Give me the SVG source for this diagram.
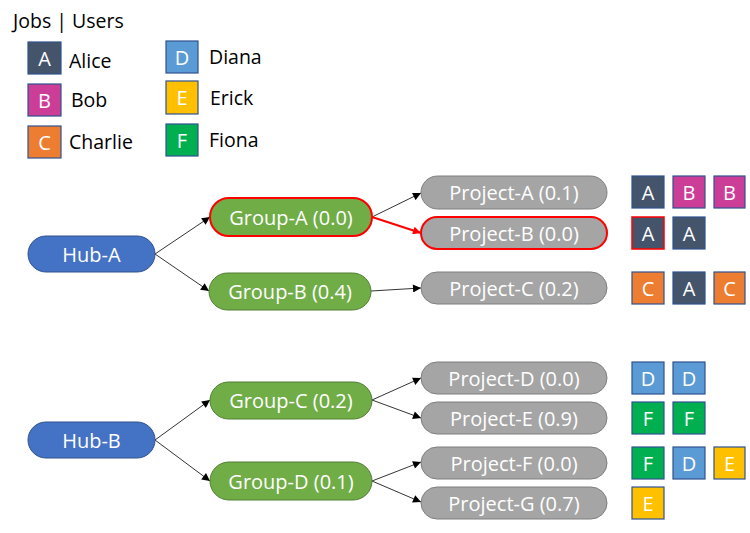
<svg xmlns="http://www.w3.org/2000/svg" width="750" height="533" viewBox="0 0 750 533">
<defs>
<style>
text{font-family:"Open Sans","Noto Sans","Liberation Sans",sans-serif;}
.t{font-size:20px;fill:#fff;text-anchor:middle;dominant-baseline:central;}
.lg{font-size:19.5px;fill:#000;}
.hub{fill:#4472C4;stroke:#2F528F;stroke-width:1;}
.grp{fill:#70AD47;stroke:#507E32;stroke-width:1;}
.prj{fill:#A5A5A5;stroke:#7F7F7F;stroke-width:1;}
.sel{stroke:#FF0000;stroke-width:2;}
.sq{stroke:#2F528F;stroke-width:1.2;}
.sqt{font-size:20px;fill:#fff;text-anchor:middle;dominant-baseline:central;}
.ua{fill:#44546A;}.ub{fill:#CC3D98;}.uc{fill:#ED7D31;}.ud{fill:#5B9BD5;}.ue{fill:#FFC000;}.uf{fill:#00B050;}
.e{stroke:#000;stroke-width:0.8;fill:none;marker-end:url(#ah);}
.er{stroke:#FF0000;stroke-width:2;fill:none;marker-end:url(#ahr);}
</style>
<marker id="ah" viewBox="0 0 10 10" refX="10" refY="5" markerWidth="10" markerHeight="8" markerUnits="userSpaceOnUse" orient="auto"><path d="M0,0 L10,5 L0,10 z" fill="#000"/></marker>
<marker id="ahr" viewBox="0 0 10 10" refX="10" refY="5" markerWidth="10" markerHeight="8" markerUnits="userSpaceOnUse" orient="auto"><path d="M0,0 L10,5 L0,10 z" fill="#FF0000"/></marker>
</defs>
<rect width="750" height="533" fill="#fff"/>

<g id="legend">
<text class="lg" x="13" y="28">Jobs | Users</text>
<rect class="sq ua" x="28" y="42" width="33" height="32"/><text class="sqt" x="44.5" y="58">A</text>
<text class="lg" x="69" y="68">Alice</text>
<rect class="sq ub" x="28" y="84" width="33" height="32"/><text class="sqt" x="44.5" y="100">B</text>
<text class="lg" x="71" y="107">Bob</text>
<rect class="sq uc" x="28" y="126" width="33" height="32"/><text class="sqt" x="44.5" y="142">C</text>
<text class="lg" x="69" y="149">Charlie</text>
<rect class="sq ud" x="166" y="41" width="32" height="32"/><text class="sqt" x="182" y="57">D</text>
<text class="lg" x="209" y="64">Diana</text>
<rect class="sq ue" x="166" y="81" width="32" height="33"/><text class="sqt" x="182" y="97.5">E</text>
<text class="lg" x="210" y="105">Erick</text>
<rect class="sq uf" x="166" y="124" width="32" height="32"/><text class="sqt" x="182" y="140">F</text>
<text class="lg" x="209" y="147">Fiona</text>
</g>

<g id="connectors">
<line class="e" x1="155" y1="254" x2="210" y2="217"/>
<line class="e" x1="155" y1="254" x2="209" y2="291"/>
<line class="e" x1="372" y1="217" x2="421" y2="193"/>
<line class="er" x1="372" y1="217" x2="421" y2="233"/>
<line class="e" x1="371" y1="291" x2="421" y2="288"/>
<line class="e" x1="155" y1="440" x2="210" y2="400"/>
<line class="e" x1="155" y1="440" x2="210" y2="481"/>
<line class="e" x1="372" y1="400" x2="421" y2="378"/>
<line class="e" x1="372" y1="400" x2="421" y2="418"/>
<line class="e" x1="372" y1="481" x2="421" y2="462"/>
<line class="e" x1="372" y1="481" x2="421" y2="502"/>
</g>

<g id="hub-a"><rect class="hub" x="28" y="236" width="127" height="36" rx="18"/><text class="t" x="91.5" y="254">Hub-A</text></g>
<g id="hub-b"><rect class="hub" x="28" y="422" width="127" height="36" rx="18"/><text class="t" x="91.5" y="440">Hub-B</text></g>

<g id="group-a"><rect class="grp sel" x="210" y="198" width="162" height="38" rx="19"/><text class="t" x="291" y="217">Group-A (0.0)</text></g>
<g id="group-b"><rect class="grp" x="209" y="273" width="162" height="37" rx="18.5"/><text class="t" x="290" y="291.5">Group-B (0.4)</text></g>
<g id="group-c"><rect class="grp" x="210" y="382" width="162" height="37" rx="18.5"/><text class="t" x="291" y="400.5">Group-C (0.2)</text></g>
<g id="group-d"><rect class="grp" x="210" y="462" width="162" height="38" rx="19"/><text class="t" x="291" y="481">Group-D (0.1)</text></g>

<g id="project-a"><rect class="prj" x="421" y="176" width="186" height="33" rx="16.5"/><text class="t" x="514" y="192.5">Project-A (0.1)</text></g>
<g id="project-b"><rect class="prj sel" x="421" y="217" width="186" height="32" rx="16"/><text class="t" x="514" y="233">Project-B (0.0)</text></g>
<g id="project-c"><rect class="prj" x="421" y="272" width="186" height="32" rx="16"/><text class="t" x="514" y="288">Project-C (0.2)</text></g>
<g id="project-d"><rect class="prj" x="421" y="362" width="186" height="32" rx="16"/><text class="t" x="514" y="378">Project-D (0.0)</text></g>
<g id="project-e"><rect class="prj" x="421" y="402" width="186" height="32" rx="16"/><text class="t" x="514" y="418">Project-E (0.9)</text></g>
<g id="project-f"><rect class="prj" x="421" y="447" width="186" height="32" rx="16"/><text class="t" x="514" y="463">Project-F (0.0)</text></g>
<g id="project-g"><rect class="prj" x="421" y="487" width="186" height="32" rx="16"/><text class="t" x="514" y="503">Project-G (0.7)</text></g>

<g id="jobs-a">
<rect class="sq ua" x="632" y="176" width="32" height="32"/><text class="sqt" x="648" y="192">A</text>
<rect class="sq ub" x="673" y="176" width="32" height="32"/><text class="sqt" x="689" y="192">B</text>
<rect class="sq ub" x="714" y="176" width="31" height="32"/><text class="sqt" x="729.5" y="192">B</text>
</g>
<g id="jobs-b">
<rect class="sq ua" x="632" y="217" width="32" height="32" style="stroke:#FF0000;stroke-width:1.5"/><text class="sqt" x="648" y="233">A</text>
<rect class="sq ua" x="673" y="217" width="32" height="32"/><text class="sqt" x="689" y="233">A</text>
</g>
<g id="jobs-c">
<rect class="sq uc" x="632" y="272" width="32" height="32"/><text class="sqt" x="648" y="288">C</text>
<rect class="sq ua" x="673" y="272" width="32" height="32"/><text class="sqt" x="689" y="288">A</text>
<rect class="sq uc" x="714" y="272" width="31" height="32"/><text class="sqt" x="729.5" y="288">C</text>
</g>
<g id="jobs-d">
<rect class="sq ud" x="632" y="362" width="32" height="32"/><text class="sqt" x="648" y="378">D</text>
<rect class="sq ud" x="673" y="362" width="32" height="32"/><text class="sqt" x="689" y="378">D</text>
</g>
<g id="jobs-e">
<rect class="sq uf" x="632" y="402" width="32" height="32"/><text class="sqt" x="648" y="418">F</text>
<rect class="sq uf" x="673" y="402" width="32" height="32"/><text class="sqt" x="689" y="418">F</text>
</g>
<g id="jobs-f">
<rect class="sq uf" x="632" y="447" width="32" height="32"/><text class="sqt" x="648" y="463">F</text>
<rect class="sq ud" x="673" y="447" width="32" height="32"/><text class="sqt" x="689" y="463">D</text>
<rect class="sq ue" x="714" y="447" width="31" height="32"/><text class="sqt" x="729.5" y="463">E</text>
</g>
<g id="jobs-g">
<rect class="sq ue" x="632" y="487" width="32" height="32"/><text class="sqt" x="648" y="503">E</text>
</g>
</svg>
